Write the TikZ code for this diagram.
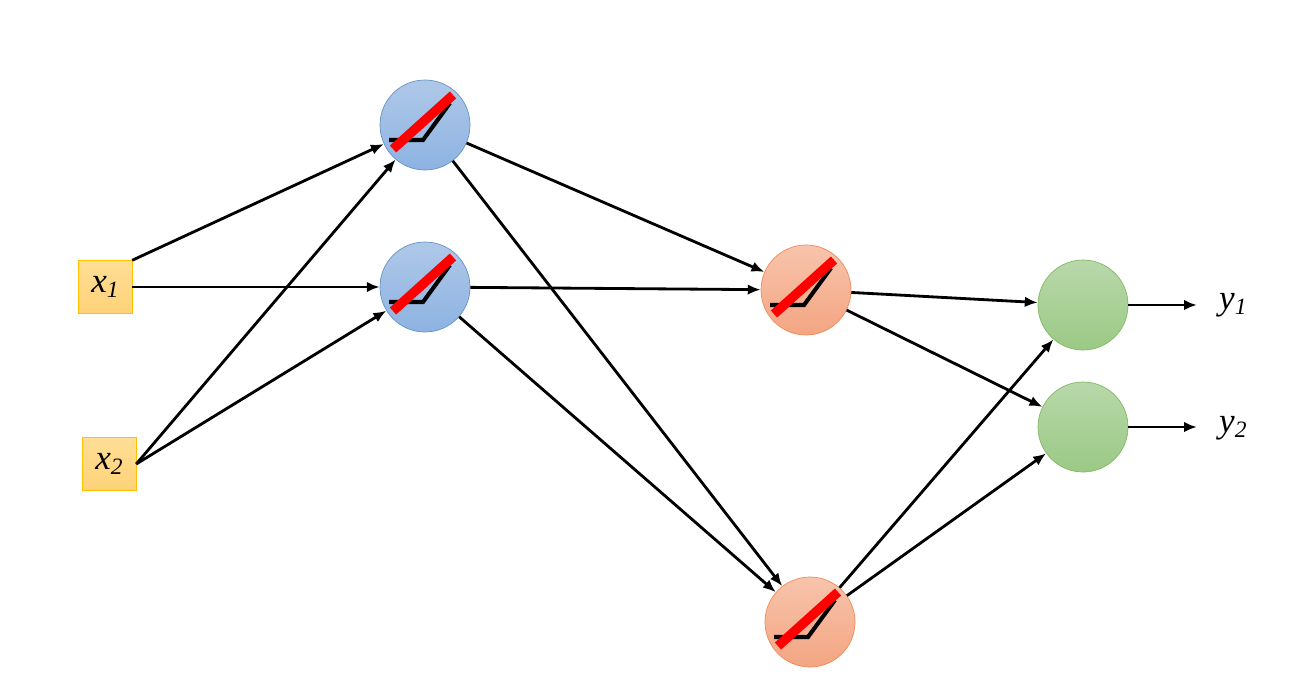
\documentclass[tikz,border=0pt]{standalone}
\usepackage{fontspec}
\setmainfont{Liberation Serif}
\usetikzlibrary{arrows.meta}
\begin{document}
\begin{tikzpicture}[x=0.03cm,y=-0.03cm,
 neu/.style={circle,minimum size=2.7cm,inner sep=0pt},
 blue/.style={neu,draw=blue!50!cyan!60!black!60,top color={rgb,255:red,175;green,200;blue,232},bottom color={rgb,255:red,141;green,179;blue,226},line width=0.6pt},
 org/.style={neu,draw={rgb,255:red,240;green,140;blue,90},top color={rgb,255:red,248;green,196;blue,172},bottom color={rgb,255:red,243;green,165;blue,130},line width=0.6pt},
 grn/.style={neu,draw={rgb,255:red,130;green,185;blue,100},top color={rgb,255:red,184;green,216;blue,170},bottom color={rgb,255:red,155;green,201;blue,133},line width=0.6pt},
 inp/.style={draw={rgb,255:red,255;green,192;blue,0},top color={rgb,255:red,255;green,222;blue,150},bottom color={rgb,255:red,255;green,210;blue,120},minimum width=1.62cm,minimum height=1.59cm,inner sep=0pt,font=\fontsize{30}{30}\selectfont},
 txt/.style={font=\fontsize{30}{30}\selectfont},
 arr/.style={line width=2.4pt,-{Latex[length=11pt,width=9pt]}}
]
\useasboundingbox (0,0) rectangle (1299,693);
\newcommand{\relu}[1]{%
 \begin{scope}[shift={(#1)}]
 \draw[line width=3.5pt] (-36,15)--(-2,15)--(25,-22);
 \draw[line width=8pt,red] (-32,24)--(28,-30);
 \end{scope}}
\node[inp] (x1) at (105,287) {\itshape x\raisebox{-0.35ex}{\fontsize{20}{20}\selectfont 1}};
\node[inp] (x2) at (109,464) {\itshape x\raisebox{-0.35ex}{\fontsize{20}{20}\selectfont 2}};
\node[blue] (h1) at (425,125) {};
\node[blue] (h2) at (425,287) {};
\node[org] (o1) at (806,290) {};
\node[org] (o2) at (810,622) {};
\node[grn] (g1) at (1083,305) {};
\node[grn] (g2) at (1083,427) {};
\relu{h1}\relu{h2}\relu{o1}\relu{o2}
\node[txt,anchor=west] (y1) at (1215,305) {\itshape y\raisebox{-0.35ex}{\fontsize{20}{20}\selectfont 1}};
\node[txt,anchor=west] (y2) at (1215,428) {\itshape y\raisebox{-0.35ex}{\fontsize{20}{20}\selectfont 2}};
\coordinate (e1) at (1197,305);
\coordinate (e2) at (1197,427);
\draw[arr] (x1.north east) -- (h1);
\draw[arr] (x1.east) -- (h2);
\draw[arr] (x2.east) -- (h1);
\draw[arr] (x2.east) -- (h2);
\draw[arr] (h1) -- (o1);
\draw[arr] (h1) -- (o2);
\draw[arr] (h2) -- (o1);
\draw[arr] (h2) -- (o2);
\draw[arr] (o1) -- (g1);
\draw[arr] (o1) -- (g2);
\draw[arr] (o2) -- (g1);
\draw[arr] (o2) -- (g2);
\draw[arr] (g1) -- (e1);
\draw[arr] (g2) -- (e2);
\end{tikzpicture}
\end{document}
